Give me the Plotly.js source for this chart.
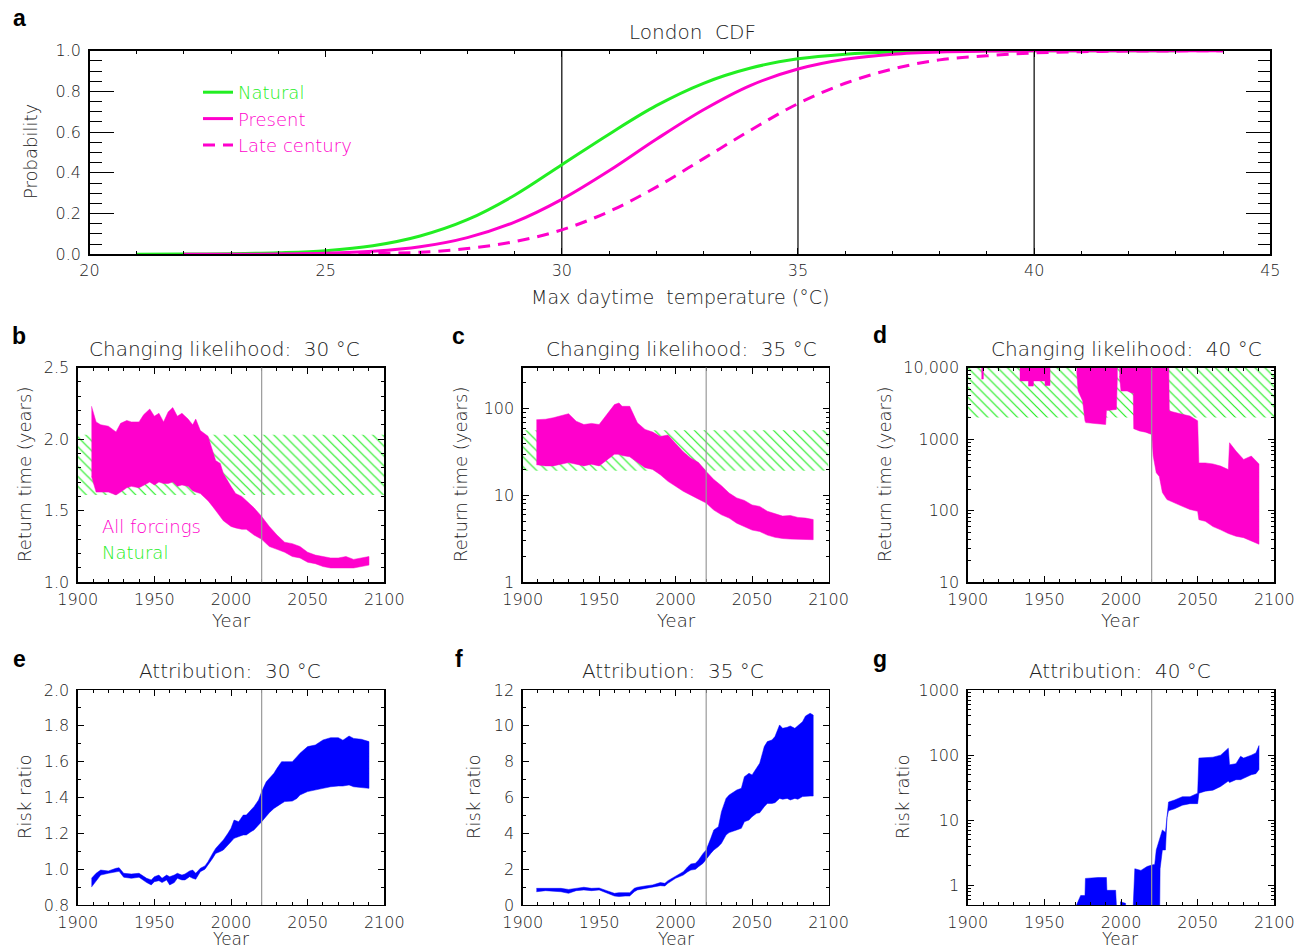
<!DOCTYPE html>
<html><head><meta charset="utf-8">
<script src="https://cdn.plot.ly/plotly-3.0.1.min.js"></script>
<style>html,body{margin:0;padding:0;background:#fff;}#chart{width:1307px;height:952px;}</style>
</head><body><div id="chart"></div>
<script>
// ---------------- DATA ----------------
// Panel a: CDF of max daytime temperature (London)
const cdfTemp    = [21,22,23,24,25,26,27,28,29,30,31,32,33,34,35,36,37,38,39,40,41,42,43,44,45];
const cdfNatural = [0.000,0.001,0.003,0.008,0.018,0.042,0.09,0.17,0.29,0.44,0.59,0.73,0.84,0.915,0.96,0.983,0.994,0.998,0.9995,1,1,1,1,null,null];
const cdfPresent = [null,0.000,0.0004,0.0015,0.005,0.015,0.037,0.082,0.158,0.27,0.41,0.565,0.71,0.83,0.91,0.958,0.983,0.994,0.998,0.9995,1,1,1,1,null];
const cdfLate    = [null,null,null,0.0005,0.0015,0.004,0.01,0.028,0.062,0.12,0.21,0.33,0.47,0.61,0.74,0.84,0.91,0.955,0.975,0.989,0.995,0.998,0.999,1,null];
const thresholds = [30,35,40];
const presentYear = 2020;
const yearSpan = [1900,2100];

// Panel b: return time 30 C (years)
const yearsB = [1909,1912,1915,1920,1925,1928,1932,1935,1940,1943,1947,1950,1953,1956,1959,1962,1965,1968,1972,1975,1977,1980,1985,1988,1990,1993,1995,2000,2003,2007,2010,2015,2020,2025,2030,2035,2040,2045,2050,2055,2060,2065,2070,2075,2080,2085,2090];
const upB  = [2.23,2.12,2.10,2.09,2.05,2.11,2.13,2.12,2.12,2.17,2.21,2.16,2.18,2.12,2.19,2.22,2.16,2.18,2.14,2.10,2.14,2.06,2.02,1.92,1.85,1.83,1.76,1.67,1.62,1.60,1.57,1.52,1.46,1.39,1.33,1.28,1.27,1.25,1.21,1.19,1.18,1.17,1.17,1.18,1.16,1.17,1.18];
const lowB = [1.74,1.63,1.63,1.63,1.61,1.63,1.66,1.67,1.66,1.68,1.70,1.68,1.70,1.69,1.69,1.70,1.67,1.68,1.67,1.64,1.63,1.62,1.57,1.53,1.50,1.46,1.43,1.39,1.38,1.37,1.37,1.33,1.30,1.25,1.23,1.21,1.18,1.17,1.14,1.13,1.11,1.10,1.10,1.10,1.10,1.11,1.12];
const naturalB = [1.61, 2.03];

// Panel c: return time 35 C
const yearsC = [1909,1915,1920,1925,1930,1935,1940,1945,1950,1955,1960,1963,1965,1970,1975,1980,1985,1990,1995,2000,2005,2010,2015,2020,2025,2030,2035,2040,2045,2050,2055,2060,2065,2070,2075,2080,2085,2090];
const upC  = [75,76,79,84,88,72,66,68,66,86,112,117,107,107,69,58,54,48,50,40,32,27,24,19,15.3,13.0,10.7,9.4,8.8,7.8,7.5,6.6,6.2,5.8,5.9,5.6,5.5,5.3];
const lowC = [22.7,22,22,23,24,23,22,23,22,26,30,30,29,28,24,21,20,17.4,14.6,12.8,11.2,10.0,9.1,8.2,6.8,6.0,5.5,4.8,4.4,4.0,3.85,3.5,3.3,3.2,3.15,3.15,3.1,3.1];
const naturalC = [19.4, 56.7];

// Panel d: return time 40 C (null separates segments; 20000 = beyond top of axis)
const yearsD = [1909,1910.2,null,
  1934,1939.6,1939.7,1942.8,1942.9,1950.4,1950.5,1953.7,null,
  1971.1,1972,1973.5,1975,1976.5,1977,1983,1990,1990.5,1997,1997.6,null,
  1999,2000,2004,2007,2008,2008.3,2012,2016,2020,2021,2023,2025,2027,2030,2031,2031.5,2035,2040,2045,2050,2050.8,2055,2060,2065,2070,2070.8,2075,2080,2085,2090];
const lowD = [6900,6900,null,
  6500,6500,5500,5500,6500,6500,5600,5600,null,
  9000,4700,4000,3400,1800,1700,1650,1600,2500,2600,7000,null,
  7600,4700,4700,4400,4400,1400,1300,1250,1160,580,340,300,180,143,140,138,129,115,104,98,75,71,60,54,48,47,44,42,38,34];
const upD = [20000,20000,null,
  20000,20000,20000,20000,20000,20000,20000,20000,null,
  20000,20000,20000,20000,20000,20000,20000,20000,20000,20000,20000,null,
  20000,20000,20000,20000,20000,20000,20000,20000,20000,20000,20000,20000,20000,20000,20000,2470,2340,2220,2100,1800,465,465,450,420,375,890,680,520,580,450];
const naturalD = [2000, 20000];

// Panel e: risk ratio 30 C
const yearsE = [1909,1912,1915,1920,1925,1927,1930,1935,1940,1945,1948,1950,1953,1955,1958,1960,1963,1965,1968,1970,1973,1975,1977,1980,1983,1985,1988,1990,1993,1995,1998,2000,2002,2005,2008,2010,2013,2015,2018,2020,2023,2025,2028,2030,2033,2035,2040,2043,2045,2050,2055,2060,2065,2070,2073,2077,2080,2085,2090];
const upE  = [0.949,0.977,0.995,0.99,1.005,1.008,0.977,0.973,0.977,0.949,0.94,0.958,0.967,0.949,0.967,0.958,0.967,0.977,0.967,0.973,0.99,0.995,0.977,1.005,1.018,1.042,1.088,1.116,1.144,1.163,1.20,1.228,1.274,1.265,1.302,1.302,1.33,1.349,1.386,1.433,1.488,1.507,1.535,1.563,1.60,1.60,1.60,1.628,1.647,1.684,1.693,1.721,1.734,1.734,1.72,1.743,1.73,1.725,1.712];
const lowE = [0.90,0.93,0.967,0.977,0.986,0.988,0.955,0.949,0.955,0.925,0.912,0.93,0.936,0.925,0.94,0.912,0.925,0.949,0.94,0.94,0.958,0.949,0.944,0.986,1.0,1.023,1.06,1.088,1.098,1.107,1.135,1.153,1.172,1.181,1.191,1.191,1.209,1.219,1.247,1.265,1.293,1.315,1.339,1.349,1.367,1.377,1.38,1.395,1.414,1.433,1.442,1.451,1.46,1.464,1.464,1.47,1.46,1.457,1.451];

// Panel f: risk ratio 35 C
const yearsF = [1909,1915,1920,1925,1930,1935,1940,1945,1950,1955,1960,1963,1967,1970,1973,1975,1980,1985,1990,1993,1995,2000,2003,2005,2008,2010,2013,2015,2018,2020,2023,2025,2028,2030,2033,2035,2040,2043,2045,2048,2050,2053,2055,2058,2060,2063,2065,2068,2070,2073,2075,2078,2080,2083,2085,2088,2090];
const upF  = [0.93,0.93,0.97,0.93,0.87,0.93,0.99,0.93,0.95,0.8,0.65,0.69,0.69,0.69,0.93,0.99,1.06,1.12,1.25,1.21,1.36,1.62,1.77,1.86,2.14,2.29,2.33,2.51,2.88,3.07,3.72,4.19,4.37,5.21,5.95,6.14,6.42,6.51,7.16,7.35,7.26,7.63,7.91,8.84,9.12,9.21,9.4,10.05,9.86,9.92,9.99,9.86,9.99,10.23,10.55,10.7,10.6];
const lowF = [0.74,0.8,0.78,0.74,0.65,0.8,0.84,0.8,0.84,0.65,0.5,0.47,0.5,0.5,0.74,0.84,0.93,0.99,1.08,1.06,1.21,1.49,1.58,1.67,1.86,1.95,1.99,2.14,2.33,2.51,2.88,3.07,3.26,3.44,3.91,4.04,4.19,4.28,4.65,4.74,4.93,5.12,5.15,5.49,5.67,5.67,5.71,5.95,5.9,5.95,5.86,5.95,5.9,6.05,6.05,6.08,6.08];

// Panel g: risk ratio 40 C (0.1 = below bottom of axis)
const yearsG = [1971,1972.5,1973.7,1976.5,1976.8,1985,1990.5,1990.8,1996.5,1997,null,
  1999.5,2003,null,
  2008,2009,2013,2017,2020,2022,2023,2024,2025,2025.5,2027,2029,2030,2031,2035,2040,2045,2050,2050.8,2055,2060,2065,2070,2070.8,2075,2078,2080,2085,2088,2090];
const upG = [0.5,0.62,0.70,0.70,1.28,1.32,1.32,0.84,0.84,0.5,null,
  0.56,0.53,null,
  0.5,1.8,1.7,1.95,2.05,2.1,3.5,4.2,5.2,5.4,7.1,6.5,13,19,20.5,23,23,26,90,91,93,100,128,71,74,96,90,100,108,140];
const lowG = [0.1,0.1,0.1,0.1,0.1,0.1,0.1,0.1,0.1,0.1,null,
  0.1,0.1,null,
  0.1,0.1,0.1,0.1,0.1,0.1,0.1,0.1,0.1,1.8,3.5,3.5,11,14,15,17,18,18,26,28,29,33,40,38,42,42,44,50,52,60];

// tick labels
const probTicks = [0,0.2,0.4,0.6,0.8,1.0];
const probLabels = ['0.0','0.2','0.4','0.6','0.8','1.0'];
const yearTicks = [1900,1950,2000,2050,2100];
const rtTicksB = [1.0,1.5,2.0,2.5], rtLabelsB = ['1.0','1.5','2.0','2.5'];
const rtTicksC = [1,10,100], rtLabelsC = ['1','10','100'];
const rtTicksD = [10,100,1000,10000], rtLabelsD = ['10','100','1000','10,000'];
const rrTicksE = [0.8,1.0,1.2,1.4,1.6,1.8,2.0], rrLabelsE = ['0.8','1.0','1.2','1.4','1.6','1.8','2.0'];
const rrTicksF = [0,2,4,6,8,10,12];
const rrTicksG = [1,10,100,1000], rrLabelsG = ['1','10','100','1000'];

// ---------------- STYLE / LAYOUT ----------------
const W = 1307, H = 952;
const px = x => x / W, py = y => 1 - y / H;
const FONT = '"DejaVu Sans ExtraLight", "DejaVu Sans Light", "DejaVu Sans", sans-serif';
const TXT = '#222';
const GREEN = '#22ee22', MAGENTA = '#ff00cc', BLUE = '#0000ff';

function band(years, low, up) {
  const xs = [], ys = [];
  let seg = [];
  const flush = () => {
    if (!seg.length) return;
    if (xs.length) { xs.push(null); ys.push(null); }
    seg.forEach(i => { xs.push(years[i]); ys.push(up[i]); });
    for (let k = seg.length - 1; k >= 0; k--) { xs.push(years[seg[k]]); ys.push(low[seg[k]]); }
    seg = [];
  };
  years.forEach((y, i) => { if (y === null) flush(); else seg.push(i); });
  flush();
  return { x: xs, y: ys };
}
function hatchTrace(range, xa, ya) {
  return { x: [yearSpan[0], yearSpan[1], yearSpan[1], yearSpan[0]], y: [range[0], range[0], range[1], range[1]],
    xaxis: xa, yaxis: ya, mode: 'lines', line: { width: 0, color: GREEN }, fill: 'toself',
    fillcolor: 'rgba(255,255,255,0)',
    fillpattern: { shape: '\\', fgcolor: '#22ee22', bgcolor: 'rgba(255,255,255,0)', size: 7, solidity: 0.17 },
    showlegend: false, hoverinfo: 'skip' };
}
function bandTrace(years, low, up, color, xa, ya) {
  const p = band(years, low, up);
  return { x: p.x, y: p.y, xaxis: xa, yaxis: ya, mode: 'lines', line: { width: 0.5, color: color },
    fill: 'toself', fillcolor: color, connectgaps: false, showlegend: false, hoverinfo: 'skip' };
}

const traces = [
  { x: cdfTemp, y: cdfNatural, mode: 'lines', line: { color: GREEN, width: 3, shape: 'spline' }, name: '<span style="color:' + GREEN + '">Natural</span>', xaxis: 'x', yaxis: 'y' },
  { x: cdfTemp, y: cdfPresent, mode: 'lines', line: { color: MAGENTA, width: 3, shape: 'spline' }, name: '<span style="color:' + MAGENTA + '">Present</span>', xaxis: 'x', yaxis: 'y' },
  { x: cdfTemp, y: cdfLate, mode: 'lines', line: { color: MAGENTA, width: 3, shape: 'spline', dash: '12px,8px' }, name: '<span style="color:' + MAGENTA + '">Late century</span>', xaxis: 'x', yaxis: 'y' },
  hatchTrace(naturalB, 'x2', 'y2'),
  bandTrace(yearsB, lowB, upB, MAGENTA, 'x2', 'y2'),
  hatchTrace(naturalC, 'x3', 'y3'),
  bandTrace(yearsC, lowC, upC, MAGENTA, 'x3', 'y3'),
  hatchTrace(naturalD, 'x4', 'y4'),
  bandTrace(yearsD, lowD, upD, MAGENTA, 'x4', 'y4'),
  bandTrace(yearsE, lowE, upE, BLUE, 'x5', 'y5'),
  bandTrace(yearsF, lowF, upF, BLUE, 'x6', 'y6'),
  bandTrace(yearsG, lowG, upG, BLUE, 'x7', 'y7'),
];

const tickFont = { family: FONT, size: 16, color: TXT };
function ax(o) {
  return Object.assign({ showline: true, linecolor: '#000', linewidth: 1.3, mirror: 'ticks', ticks: 'inside',
    tickcolor: '#000', tickwidth: 1, ticklen: 6, showgrid: false, zeroline: false, tickfont: tickFont,
    fixedrange: true, automargin: false }, o);
}
function logMinor(lo, hi) {
  const v = [];
  for (let d = lo; d < hi; d++) for (let m = 2; m <= 9; m++) v.push(m * Math.pow(10, d));
  return v;
}
const minorYears = { ticks: 'inside', ticklen: 3, tickcolor: '#000', dtick: 10, tick0: 1900, showgrid: false };

// domains in pixels
const colX = [[77.7, 384.3], [522.7, 828.5], [967.7, 1274.3]];
const rowMid = [367.5, 582.3], rowBot = [690, 905];
const dx = c => [px(c[0]), px(c[1])];
const dy = r => [py(r[1]), py(r[0])];

const layout = {
  width: W, height: H, margin: { l: 0, r: 0, t: 0, b: 0 }, paper_bgcolor: '#fff', plot_bgcolor: 'rgba(0,0,0,0)',
  font: { family: FONT, color: TXT },
  showlegend: true,
  legend: { x: px(198), y: py(74), xanchor: 'left', yanchor: 'top', bgcolor: 'rgba(0,0,0,0)',
    font: { family: FONT, size: 18 }, tracegroupgap: 0, itemclick: false, itemdoubleclick: false, itemwidth: 30 },
  xaxis: ax({ domain: [px(89.5), px(1270.3)], anchor: 'y', range: [20, 45], dtick: 5, tick0: 20, ticklen: 6,
    minor: { ticks: 'inside', ticklen: 3, tickcolor: '#000', dtick: 1, showgrid: false }, ticklabelstandoff: 1 }),
  yaxis: ax({ domain: [py(254.3), py(50.7)], anchor: 'x', range: [0, 1], tickmode: 'array', tickvals: probTicks, ticktext: probLabels,
    ticklen: 24, minor: { ticks: 'inside', ticklen: 12, tickcolor: '#000', dtick: 0.05, tick0: 0, showgrid: false }, ticklabelstandoff: 4 }),

  xaxis2: ax({ domain: dx(colX[0]), anchor: 'y2', range: yearSpan, tickmode: 'array', tickvals: yearTicks, minor: minorYears, ticklabelstandoff: 2 }),
  yaxis2: ax({ domain: dy(rowMid), anchor: 'x2', range: [1.0, 2.5], tickmode: 'array', tickvals: rtTicksB, ticktext: rtLabelsB,
    minor: { ticks: 'inside', ticklen: 3, tickcolor: '#000', dtick: 0.1, tick0: 1.0, showgrid: false }, ticklabelstandoff: 4 }),
  xaxis3: ax({ domain: dx(colX[1]), anchor: 'y3', range: yearSpan, tickmode: 'array', tickvals: yearTicks, minor: minorYears, ticklabelstandoff: 2 }),
  yaxis3: ax({ domain: dy(rowMid), anchor: 'x3', type: 'log', range: [0, Math.log10(300)], tickmode: 'array', tickvals: rtTicksC, ticktext: rtLabelsC,
    minor: { ticks: 'inside', ticklen: 3, tickcolor: '#000', tickmode: 'array', tickvals: logMinor(0, 3), showgrid: false }, ticklabelstandoff: 4 }),
  xaxis4: ax({ domain: dx(colX[2]), anchor: 'y4', range: yearSpan, tickmode: 'array', tickvals: yearTicks, minor: minorYears, ticklabelstandoff: 2 }),
  yaxis4: ax({ domain: dy(rowMid), anchor: 'x4', type: 'log', range: [1, 4], tickmode: 'array', tickvals: rtTicksD, ticktext: rtLabelsD,
    minor: { ticks: 'inside', ticklen: 3, tickcolor: '#000', tickmode: 'array', tickvals: logMinor(1, 4), showgrid: false }, ticklabelstandoff: 4 }),

  xaxis5: ax({ domain: dx(colX[0]), anchor: 'y5', range: yearSpan, tickmode: 'array', tickvals: yearTicks, minor: minorYears, ticklabelstandoff: 2 }),
  yaxis5: ax({ domain: dy(rowBot), anchor: 'x5', range: [0.8, 2.0], tickmode: 'array', tickvals: rrTicksE, ticktext: rrLabelsE,
    minor: { ticks: 'inside', ticklen: 3, tickcolor: '#000', dtick: 0.1, tick0: 0.8, showgrid: false }, ticklabelstandoff: 4 }),
  xaxis6: ax({ domain: dx(colX[1]), anchor: 'y6', range: yearSpan, tickmode: 'array', tickvals: yearTicks, minor: minorYears, ticklabelstandoff: 2 }),
  yaxis6: ax({ domain: dy(rowBot), anchor: 'x6', range: [0, 12], tickmode: 'array', tickvals: rrTicksF,
    minor: { ticks: 'inside', ticklen: 3, tickcolor: '#000', dtick: 1, tick0: 0, showgrid: false }, ticklabelstandoff: 4 }),
  xaxis7: ax({ domain: dx(colX[2]), anchor: 'y7', range: yearSpan, tickmode: 'array', tickvals: yearTicks, minor: minorYears, ticklabelstandoff: 2 }),
  yaxis7: ax({ domain: dy(rowBot), anchor: 'x7', type: 'log', range: [Math.log10(0.5), 3], tickmode: 'array', tickvals: rrTicksG, ticktext: rrLabelsG,
    minor: { ticks: 'inside', ticklen: 3, tickcolor: '#000', tickmode: 'array', tickvals: logMinor(-1, 3).filter(v => v >= 0.5), showgrid: false }, ticklabelstandoff: 4 }),
  shapes: [],
  annotations: []
};

// threshold lines in panel a
thresholds.forEach(t => layout.shapes.push({ type: 'line', xref: 'x', yref: 'y domain', x0: t, x1: t, y0: 0, y1: 1,
  line: { color: '#000', width: 1.2 }, layer: 'below' }));
// present-day lines
['2', '3', '4', '5', '6', '7'].forEach(n => layout.shapes.push({ type: 'line', xref: 'x' + n, yref: 'y' + n + ' domain',
  x0: presentYear, x1: presentYear, y0: 0, y1: 1, line: { color: '#9a9a9a', width: 1.2 }, layer: 'above' }));

function ann(text, x, y, o) {
  layout.annotations.push(Object.assign({ text: text, xref: 'paper', yref: 'paper', x: px(x), y: py(y), showarrow: false,
    xanchor: 'center', yanchor: 'middle', font: { family: FONT, size: 18, color: TXT } }, o || {}));
}
const letterFont = { family: '"Liberation Sans", Arial, sans-serif', size: 23, color: '#000', weight: 'bold' };
ann('<b>a</b>', 19, 18, { font: letterFont });
ann('<b>b</b>', 19, 336, { font: letterFont });
ann('<b>c</b>', 458, 336, { font: letterFont });
ann('<b>d</b>', 880, 335, { font: letterFont });
ann('<b>e</b>', 19, 659, { font: letterFont });
ann('<b>f</b>', 459, 659, { font: letterFont });
ann('<b>g</b>', 880, 659, { font: letterFont });

const titleFont = { family: FONT, size: 20, color: TXT };
ann('London  CDF', 692, 32, { font: titleFont });
ann('Changing likelihood:  30 °C', 225, 349, { font: titleFont });
ann('Changing likelihood:  35 °C', 681, 349, { font: titleFont });
ann('Changing likelihood:  40 °C', 1126, 349, { font: titleFont });
ann('Attribution:  30 °C', 230, 671, { font: titleFont });
ann('Attribution:  35 °C', 673, 671, { font: titleFont });
ann('Attribution:  40 °C', 1120, 671, { font: titleFont });

ann('Max daytime  temperature (°C)', 680, 297, { font: { family: FONT, size: 19, color: TXT } });
ann('Probability', 30, 152, { textangle: -90 });
ann('Return time (years)', 24, 475, { textangle: -90 });
ann('Return time (years)', 460, 475, { textangle: -90 });
ann('Return time (years)', 884, 475, { textangle: -90 });
ann('Year', 231, 620); ann('Year', 676, 620); ann('Year', 1120, 620);
ann('Risk ratio', 24, 797, { textangle: -90 });
ann('Risk ratio', 473, 797, { textangle: -90 });
ann('Risk ratio', 902, 797, { textangle: -90 });
const bottomYear = { family: FONT, size: 17, color: TXT };
ann('Year', 231, 939, { font: bottomYear }); ann('Year', 676, 939, { font: bottomYear }); ann('Year', 1120, 939, { font: bottomYear });
ann('All forcings', 100, 526, { xanchor: 'left', font: { family: FONT, size: 18, color: MAGENTA } });
ann('Natural', 100, 552, { xanchor: 'left', font: { family: FONT, size: 18, color: GREEN } });

Plotly.newPlot('chart', traces, layout, { staticPlot: true, displayModeBar: false });
</script></body></html>
